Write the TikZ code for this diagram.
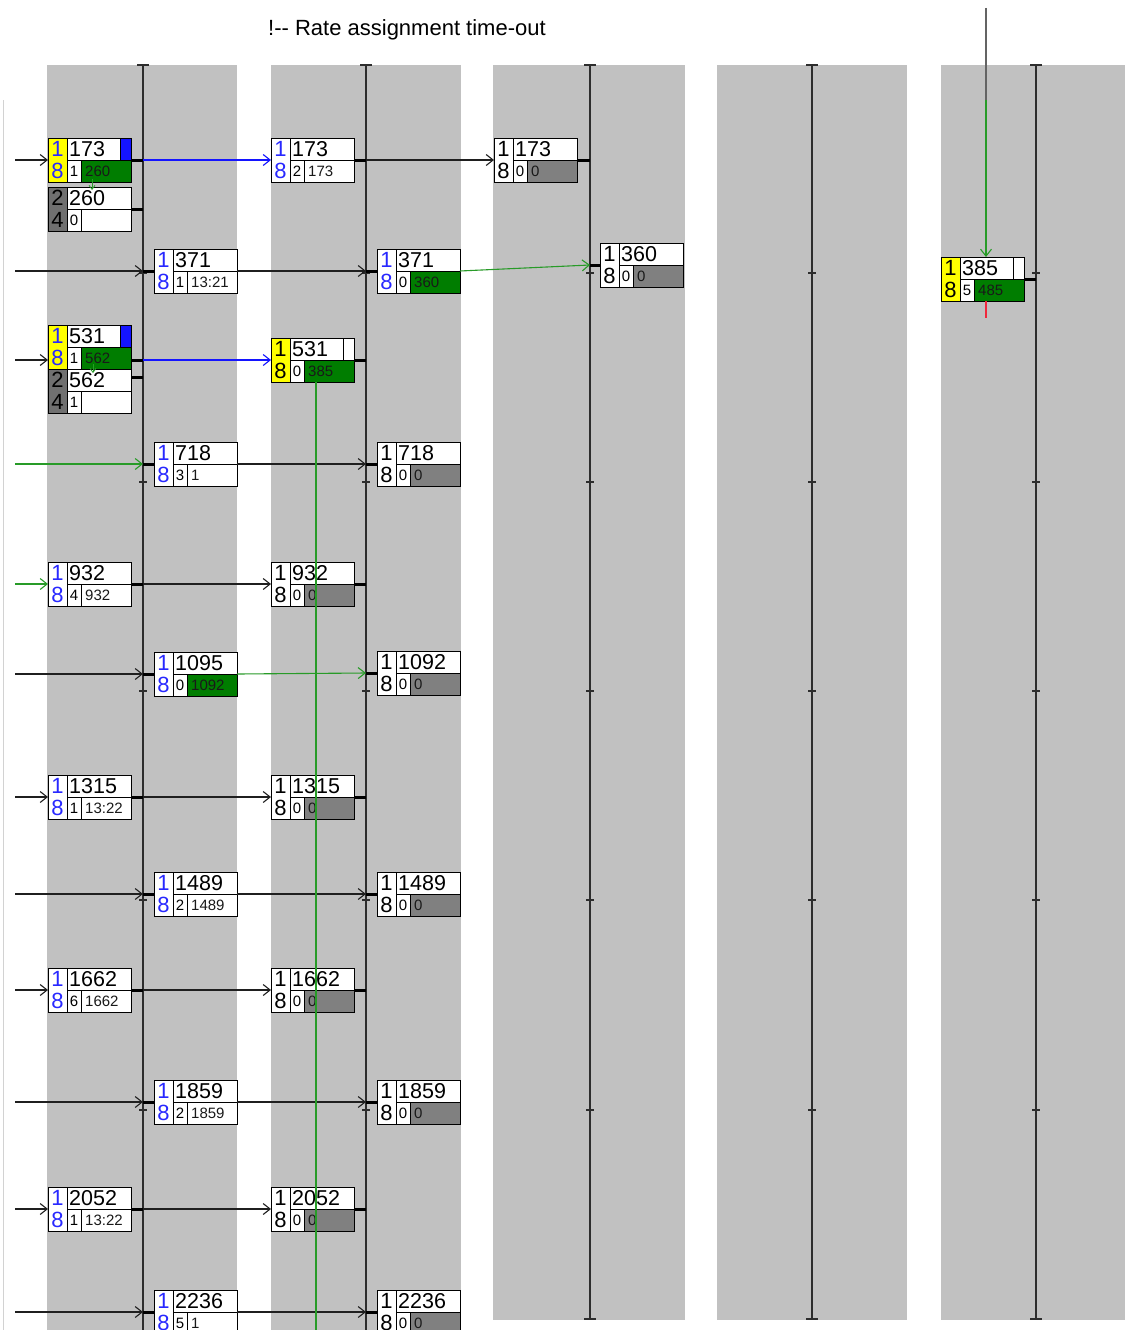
\documentclass[tikz,border=0pt]{standalone}
\usepackage{fontspec}
\setmainfont{Liberation Sans}
\usetikzlibrary{arrows.meta}
\definecolor{colgray}{RGB}{193,193,193}
\definecolor{pblue}{RGB}{20,20,255}
\definecolor{pbluet}{RGB}{40,40,255}
\definecolor{pgreen}{RGB}{0,125,0}
\definecolor{gline}{RGB}{40,155,40}
\definecolor{pyellow}{RGB}{255,255,0}
\definecolor{pdgray}{RGB}{112,112,112}
\definecolor{pgray}{RGB}{128,128,128}
\definecolor{lline}{RGB}{45,45,45}
\definecolor{pred}{RGB}{240,40,60}
\definecolor{topgray}{RGB}{100,100,100}

\pgfkeys{/pdu/.cd,
  tl/.store in=\pdutl, bl/.store in=\pdubl,
  lfill/.store in=\pdulfill, lcol/.store in=\pducol,
  trfill/.store in=\pdutr, brfill/.store in=\pdubr}
\def\pdunone{none}

\tikzset{
  pdubox/.style={draw=black, line width=1pt, fill=white, minimum width=83pt,
    minimum height=44pt, inner sep=0pt, outer sep=0pt},
  cell/.style={draw=black, line width=0.9pt},
  bigtxt/.style={inner sep=0pt, font=\fontsize{21.5}{21.5}\selectfont},
  lefttxt/.style={inner sep=0pt, font=\fontsize{22}{22}\selectfont},
  smalltxt/.style={inner sep=0pt, font=\fontsize{15}{15}\selectfont},
  arr/.style={draw=black!88, line width=1.1pt,
    -{Straight Barb[length=7pt,width=11pt,line width=1.1pt]}},
  smallarr/.style={draw=gline, line width=0.8pt,
    -{Straight Barb[length=4pt,width=6pt,line width=0.8pt]}},
  stub/.style={draw=black, line width=3pt},
  lifeline/.style={draw=lline, line width=1.1pt},
  colband/.style={fill=colgray},
  gvert/.style={draw=gline, line width=1.2pt},
  titletxt/.style={inner sep=0pt, anchor=west, font=\fontsize{22}{22}\selectfont}
}

% box: [options]{name}{x,y}{top text}{small number}{bottom-right text}
\newcommand\pdu[6][]{%
  \pgfkeys{/pdu/.cd, tl=1, bl=8, lfill=white, lcol=black, trfill=none, brfill=white, #1}%
  \node[pdubox, anchor=north west] (#2) at (#3) {};
  \fill[\pdulfill] (#2.north west) rectangle ([xshift=19pt]#2.south west);
  \fill[\pdubr] ([xshift=33pt]#2.west) rectangle (#2.south east);
  \ifx\pdutr\pdunone\else
    \fill[\pdutr] ([xshift=-11pt]#2.north east) rectangle (#2.east);
    \draw[cell] ([xshift=-11pt]#2.north east) -- ([xshift=-11pt]#2.east);
  \fi
  \draw[cell] ([xshift=19pt]#2.north west) -- ([xshift=19pt]#2.south west);
  \draw[cell] ([xshift=19pt]#2.west) -- (#2.east);
  \draw[cell] ([xshift=33pt]#2.west) -- ([xshift=33pt]#2.south west);
  \draw[cell] (#2.north west) rectangle (#2.south east);
  \node[lefttxt, text=\pducol] at ([xshift=9.5pt,yshift=-11pt]#2.north west) {\pdutl};
  \node[lefttxt, text=\pducol] at ([xshift=9.5pt,yshift=11pt]#2.south west) {\pdubl};
  \node[bigtxt, anchor=west] at ([xshift=21pt,yshift=-11pt]#2.north west) {#4};
  \node[smalltxt] at ([xshift=26pt,yshift=11pt]#2.south west) {#5};
  \node[smalltxt, anchor=west, text=black!90] at ([xshift=37pt,yshift=11pt]#2.south west) {#6};
}

\begin{document}
\begin{tikzpicture}[x=1pt, y=-1pt]
\useasboundingbox (0,0) rectangle (1125,1330);
\clip (0,0) rectangle (1125,1330);
\fill[white] (0,0) rectangle (1125,1330);
\draw[gray!35, line width=1pt] (3,100) -- (3,1330);

% columns
\fill[colband] (47,65) rectangle (237,1330);
\fill[colband] (271,65) rectangle (461,1330);
\fill[colband] (493,65) rectangle (685,1320);
\fill[colband] (717,65) rectangle (907,1320);
\fill[colband] (941,65) rectangle (1125,1320);

% lifelines
\coordinate (L1) at (143,65);
\coordinate (L2) at (366,65);
\coordinate (L3) at (590,65);
\coordinate (L4) at (812,65);
\coordinate (L5) at (1036,65);
\coordinate (bot) at (0,1330);
\coordinate (bot2) at (0,1319);
\draw[lifeline] (L1) -- (L1 |- bot);
\draw[lifeline] (L2) -- (L2 |- bot);
\draw[lifeline] (L3) -- (L3 |- bot2);
\draw[lifeline] (L4) -- (L4 |- bot2);
\draw[lifeline] (L5) -- (L5 |- bot2);
\foreach \lx in {143,366,590,812,1036}{
  \draw[lifeline] (\lx-6,65) -- (\lx+6,65);
  \foreach \ty in {273,482,691,900,1110}{
    \draw[lifeline] (\lx-4,\ty) -- (\lx+4,\ty);
  }
}
\foreach \lx in {590,812,1036}{
  \draw[lifeline] (\lx-6,1319) -- (\lx+6,1319);
}

% title
\node[titletxt] (title) at (268,30) {!-{}- Rate assignment time-out};

% boxes
\pdu[lfill=pyellow, lcol=pbluet, trfill=pblue, brfill=pgreen]{a173}{48,138}{173}{1}{260}
\pdu[lfill=pdgray, tl=2, bl=4]{a260}{48,187}{260}{0}{}
\pdu[lcol=pbluet]{b173}{271,138}{173}{2}{173}
\pdu[brfill=pgray]{c173}{494,138}{173}{0}{0}

\pdu[lcol=pbluet]{a371}{154,249}{371}{1}{13:21}
\pdu[lcol=pbluet, brfill=pgreen]{b371}{377,249}{371}{0}{360}
\pdu[brfill=pgray]{c360}{600,243}{360}{0}{0}
\pdu[lfill=pyellow, trfill=white, brfill=pgreen]{e385}{941,257}{385}{5}{485}

\pdu[lfill=pyellow, lcol=pbluet, trfill=pblue, brfill=pgreen]{a531}{48,325}{531}{1}{562}
\pdu[lfill=pdgray, tl=2, bl=4]{a562}{48,369}{562}{1}{}
\pdu[lfill=pyellow, trfill=white, brfill=pgreen]{b531}{271,338}{531}{0}{385}

\pdu[lcol=pbluet]{a718}{154,442}{718}{3}{1}
\pdu[brfill=pgray]{b718}{377,442}{718}{0}{0}

\pdu[lcol=pbluet]{a932}{48,562}{932}{4}{932}
\pdu[brfill=pgray]{b932}{271,562}{932}{0}{0}

\pdu[lcol=pbluet, brfill=pgreen]{a1095}{154,652}{1095}{0}{1092}
\pdu[brfill=pgray]{b1092}{377,651}{1092}{0}{0}

\pdu[lcol=pbluet]{a1315}{48,775}{1315}{1}{13:22}
\pdu[brfill=pgray]{b1315}{271,775}{1315}{0}{0}

\pdu[lcol=pbluet]{a1489}{154,872}{1489}{2}{1489}
\pdu[brfill=pgray]{b1489}{377,872}{1489}{0}{0}

\pdu[lcol=pbluet]{a1662}{48,968}{1662}{6}{1662}
\pdu[brfill=pgray]{b1662}{271,968}{1662}{0}{0}

\pdu[lcol=pbluet]{a1859}{154,1080}{1859}{2}{1859}
\pdu[brfill=pgray]{b1859}{377,1080}{1859}{0}{0}

\pdu[lcol=pbluet]{a2052}{48,1187}{2052}{1}{13:22}
\pdu[brfill=pgray]{b2052}{271,1187}{2052}{0}{0}

\pdu[lcol=pbluet]{a2236}{154,1290}{2236}{5}{1}
\pdu[brfill=pgray]{b2236}{377,1290}{2236}{0}{0}

% free ends
\coordinate (i1) at (15,160);
\coordinate (i2) at (15,271);
\coordinate (i3) at (15,360);
\coordinate (i4) at (15,464);
\coordinate (i5) at (15,584);
\coordinate (i6) at (15,674);
\coordinate (i7) at (15,797);
\coordinate (i8) at (15,894);
\coordinate (i9) at (15,990);
\coordinate (i10) at (15,1102);
\coordinate (i11) at (15,1209);
\coordinate (i12) at (15,1312);

% row 1
\draw[arr] (i1) -- (a173.west);
\draw[stub] (a173.east) -- (a173.east -| L1);
\draw[stub] (a260.east) -- (a260.east -| L1);
\draw[arr, draw=pblue] (a173.east -| L1) -- (b173.west);
\draw[stub] (b173.east) -- (b173.east -| L2);
\draw[arr] (b173.east -| L2) -- (c173.west);
\draw[stub] (c173.east) -- (c173.east -| L3);
\draw[smallarr] ([xshift=44pt,yshift=3pt]a173.south west) -- ([xshift=44pt,yshift=-3pt]a260.north west);

% row 2
\draw[arr] (i2) -- (i2 -| L1);
\draw[stub] (a371.west -| L1) -- (a371.west);
\draw[arr] (a371.east) -- (a371.east -| L2);
\draw[stub] (b371.west -| L2) -- (b371.west);
\draw[arr, draw=gline] (b371.east) -- (c360.west -| L3);
\draw[stub] (c360.west -| L3) -- (c360.west);
\draw[stub] (e385.east) -- (e385.east -| L5);
\coordinate (t5) at (986,8);
\coordinate (t5b) at (986,100);
\coordinate (r5) at (986,318);
\draw[draw=topgray, line width=1.1pt] (t5) -- (t5b);
\draw[arr, draw=gline] (t5b) -- (t5b |- e385.north);
\draw[draw=pred, line width=1.1pt] (t5b |- e385.south) -- (r5);

% row 3
\draw[arr] (i3) -- (i3 -| a531.west);
\draw[stub] (i3 -| a531.east) -- (i3 -| L1);
\draw[stub] ([yshift=-8pt]a562.north east) -- ([yshift=-8pt]a562.north east -| L1);
\draw[arr, draw=pblue] (i3 -| L1) -- (i3 -| b531.west);
\draw[stub] (i3 -| b531.east) -- (i3 -| L2);
\draw[smallarr] ([xshift=45pt,yshift=5pt]a531.south west) -- ([xshift=45pt,yshift=-4pt]a562.north west);

% row 4
\draw[arr, draw=gline] (i4) -- (i4 -| L1);
\draw[stub] (a718.west -| L1) -- (a718.west);
\draw[arr] (a718.east) -- (a718.east -| L2);
\draw[stub] (b718.west -| L2) -- (b718.west);

% row 5
\draw[arr, draw=gline] (i5) -- (a932.west);
\draw[stub] (a932.east) -- (a932.east -| L1);
\draw[arr] (a932.east -| L1) -- (b932.west);
\draw[stub] (b932.east) -- (b932.east -| L2);

% row 6
\draw[arr] (i6) -- (i6 -| L1);
\draw[stub] (a1095.west -| L1) -- (a1095.west);
\draw[arr, draw=gline] (a1095.east) -- (b1092.west -| L2);
\draw[stub] (b1092.west -| L2) -- (b1092.west);

% row 7
\draw[arr] (i7) -- (a1315.west);
\draw[stub] (a1315.east) -- (a1315.east -| L1);
\draw[arr] (a1315.east -| L1) -- (b1315.west);
\draw[stub] (b1315.east) -- (b1315.east -| L2);

% row 8
\draw[arr] (i8) -- (i8 -| L1);
\draw[stub] (a1489.west -| L1) -- (a1489.west);
\draw[arr] (a1489.east) -- (a1489.east -| L2);
\draw[stub] (b1489.west -| L2) -- (b1489.west);

% row 9
\draw[arr] (i9) -- (a1662.west);
\draw[stub] (a1662.east) -- (a1662.east -| L1);
\draw[arr] (a1662.east -| L1) -- (b1662.west);
\draw[stub] (b1662.east) -- (b1662.east -| L2);

% row 10
\draw[arr] (i10) -- (i10 -| L1);
\draw[stub] (a1859.west -| L1) -- (a1859.west);
\draw[arr] (a1859.east) -- (a1859.east -| L2);
\draw[stub] (b1859.west -| L2) -- (b1859.west);

% row 11
\draw[arr] (i11) -- (a2052.west);
\draw[stub] (a2052.east) -- (a2052.east -| L1);
\draw[arr] (a2052.east -| L1) -- (b2052.west);
\draw[stub] (b2052.east) -- (b2052.east -| L2);

% row 12
\draw[arr] (i12) -- (i12 -| L1);
\draw[stub] (a2236.west -| L1) -- (a2236.west);
\draw[arr] (a2236.east) -- (a2236.east -| L2);
\draw[stub] (b2236.west -| L2) -- (b2236.west);

% green vertical from 531
\coordinate (gbot) at (316,1330);
\draw[gvert] ([xshift=45pt]b531.south west) -- (gbot);
\end{tikzpicture}
\end{document}
